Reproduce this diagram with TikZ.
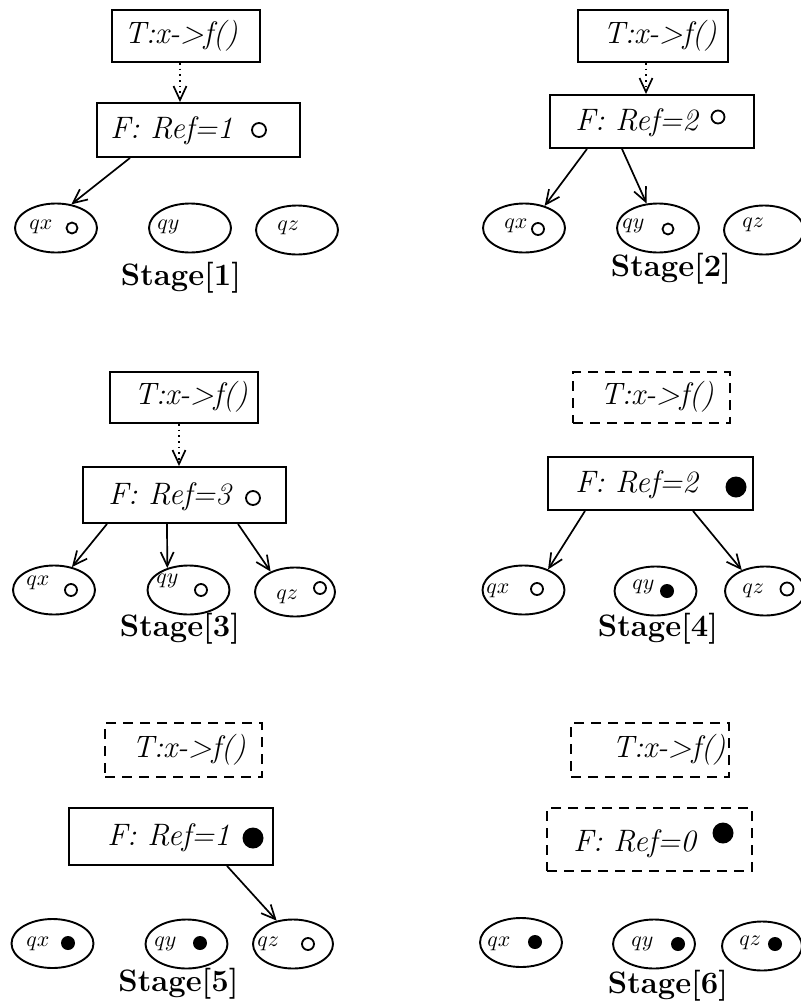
\documentclass[tikz,border=0pt]{standalone}
\usetikzlibrary{arrows.meta,shapes.geometric}
\begin{document}
\begin{tikzpicture}[x=0.5pt,y=-0.5pt,
 bx/.style={draw, line width=0.95pt, rectangle, inner sep=0pt},
 dbx/.style={bx, dash pattern=on 5pt off 3.5pt},
 ell/.style={draw, ellipse, line width=0.95pt, minimum width=41pt, minimum height=24.5pt, inner sep=0pt},
 mtxt/.style={font=\fontsize{15.5}{18}\selectfont\itshape, inner sep=0pt},
 qtxt/.style={font=\fontsize{10.5}{12}\selectfont, inner sep=0pt, anchor=west},
 stg/.style={font=\fontsize{15.5}{18}\selectfont\bfseries, inner sep=0pt, anchor=base},
 oc/.style={circle, draw, line width=0.9pt, inner sep=0pt},
 fc/.style={circle, fill, inner sep=0pt},
 arr/.style={-{Straight Barb[length=7pt,width=6.5pt,line width=0.85pt]}, line width=0.85pt},
 darr/.style={arr, dotted, line width=1pt},
]
\useasboundingbox (0,0) rectangle (801,1007);

% ---------- Stage 1 ----------
\node[bx, minimum width=74pt, minimum height=26pt] (t1) at (186,36) {};
\node[mtxt] (t1l) at (181,36) {T:x->f()};
\node[bx, minimum width=101.5pt, minimum height=27pt] (f1) at (198.5,130) {};
\node[mtxt, anchor=west] (f1l) at (110,131) {F: Ref=1};
\node[oc, minimum size=7pt] (f1c) at (259,130) {};
\draw[darr] ([xshift=-3pt]t1.south) -- ([xshift=-9.25pt]f1.north);
\node[ell] (q1x) at (56,228) {};
\node[ell] (q1y) at (190,228) {};
\node[ell] (q1z) at (297,230) {};
\node[qtxt] (q1xl) at (29,227) {$qx$};
\node[oc, minimum size=5.5pt] (q1xc) at (72,228) {};
\node[qtxt] (q1yl) at (157,227) {$qy$};
\node[qtxt] (q1zl) at (277,228) {$qz$};
\draw[arr] ([xshift=-34.25pt]f1.south) -- (q1x.57);
\node[stg] (s1) at (181,285) {Stage[1]};

% ---------- Stage 2 ----------
\node[bx, minimum width=75pt, minimum height=26pt] (t2) at (653,36) {};
\node[mtxt] (t2l) at (660,36) {T:x->f()};
\node[bx, minimum width=102pt, minimum height=26.5pt] (f2) at (652,121.5) {};
\node[mtxt, anchor=west] (f2l) at (575,123) {F: Ref=2};
\node[oc, minimum size=6.5pt] (f2c) at (718,117) {};
\draw[darr] ([xshift=-3.5pt]t2.south) -- ([xshift=-3pt]f2.north);
\node[ell] (q2x) at (524,228) {};
\node[ell] (q2y) at (658,228) {};
\node[ell, minimum width=40pt] (q2z) at (764,230) {};
\node[qtxt] (q2xl) at (504,226) {$qx$};
\node[oc, minimum size=6pt] (q2xc) at (538,229) {};
\node[qtxt] (q2yl) at (622,226) {$qy$};
\node[oc, minimum size=5.5pt] (q2yc) at (668,229) {};
\node[qtxt] (q2zl) at (742,225) {$qz$};
\draw[arr] ([xshift=-32.5pt]f2.south) -- (q2x.47);
\draw[arr] ([xshift=-15pt]f2.south) -- (q2y.115);
\node[stg] (s2) at (671,276) {Stage[2]};

% ---------- Stage 3 ----------
\node[bx, minimum width=74pt, minimum height=25.5pt] (t3) at (184,397.5) {};
\node[mtxt] (t3l) at (191,397) {T:x->f()};
\node[bx, minimum width=101.5pt, minimum height=28pt] (f3) at (184.5,495) {};
\node[mtxt, anchor=west] (f3l) at (108,497) {F: Ref=3};
\node[oc, minimum size=7pt] (f3c) at (253,498) {};
\draw[darr] ([xshift=-2.5pt]t3.south) -- ([xshift=-2.75pt]f3.north);
\node[ell] (q3x) at (54,590) {};
\node[ell] (q3y) at (188.5,590) {};
\node[ell, minimum width=40pt] (q3z) at (295,592) {};
\node[qtxt] (q3xl) at (26,583) {$qx$};
\node[oc, minimum size=6pt] (q3xc) at (71,590) {};
\node[qtxt] (q3yl) at (156,581) {$qy$};
\node[oc, minimum size=6pt] (q3yc) at (201,590) {};
\node[qtxt] (q3zl) at (276,597) {$qz$};
\node[oc, minimum size=6pt] (q3zc) at (320,588) {};
\draw[arr] ([xshift=-38.75pt]f3.south) -- (q3x.52);
\draw[arr] ([xshift=-8.75pt]f3.south) -- (q3y.134);
\draw[arr] ([xshift=26.75pt]f3.south) -- (q3z.140);
\node[stg] (s3) at (180,636) {Stage[3]};

% ---------- Stage 4 ----------
\node[dbx, minimum width=78.5pt, minimum height=25.5pt] (t4) at (651.5,397.5) {};
\node[mtxt] (t4l) at (657,397) {T:x->f()};
\node[bx, minimum width=102.5pt, minimum height=26.5pt] (f4) at (650.5,483.5) {};
\node[mtxt, anchor=west] (f4l) at (575,485) {F: Ref=2};
\node[fc, minimum size=10.5pt] (f4c) at (736,487) {};
\node[ell] (q4x) at (523.5,590) {};
\node[ell] (q4y) at (655.5,591) {};
\node[ell, minimum width=40pt] (q4z) at (765,591) {};
\node[qtxt] (q4xl) at (486,591) {$qx$};
\node[oc, minimum size=6pt] (q4xc) at (537,589) {};
\node[qtxt] (q4yl) at (632,587) {$qy$};
\node[fc, minimum size=7pt] (q4yc) at (667,591) {};
\node[qtxt] (q4zl) at (742,591) {$qz$};
\node[oc, minimum size=6.5pt] (q4zc) at (787,589) {};
\draw[arr] ([xshift=-32.75pt]f4.south) -- (q4x.40);
\draw[arr] ([xshift=21.25pt]f4.south) -- (q4z.138);
\node[stg] (s4) at (658,636) {Stage[4]};

% ---------- Stage 5 ----------
\node[dbx, minimum width=78.5pt, minimum height=27pt] (t5) at (183.5,750) {};
\node[mtxt] (t5l) at (189,750) {T:x->f()};
\node[bx, minimum width=102pt, minimum height=28.5pt] (f5) at (171,836.5) {};
\node[mtxt, anchor=west] (f5l) at (107,838) {F: Ref=1};
\node[fc, minimum size=10.5pt] (f5c) at (253,838) {};
\node[ell] (q5x) at (52.5,943.5) {};
\node[ell] (q5y) at (186.5,944) {};
\node[ell, minimum width=40pt] (q5z) at (293,944) {};
\node[qtxt] (q5xl) at (26,944) {$qx$};
\node[fc, minimum size=7pt] (q5xc) at (68,943) {};
\node[qtxt] (q5yl) at (154,944) {$qy$};
\node[fc, minimum size=7pt] (q5yc) at (200,943) {};
\node[qtxt] (q5zl) at (257,944) {$qz$};
\node[oc, minimum size=6pt] (q5zc) at (308,944) {};
\draw[arr] ([xshift=28pt]f5.south) -- (q5z.125);
\node[stg] (s5) at (178.5,991) {Stage[5]};

% ---------- Stage 6 ----------
\node[dbx, minimum width=79pt, minimum height=27pt] (t6) at (650,750) {};
\node[mtxt, anchor=east] (t6l) at (726,750) {T:x->f()};
\node[dbx, minimum width=102.5pt, minimum height=31.5pt] (f6) at (649.5,839.5) {};
\node[mtxt, anchor=west] (f6l) at (573,844) {F: Ref=0};
\node[fc, minimum size=10.5pt] (f6c) at (723,833) {};
\node[ell] (q6x) at (521,942.5) {};
\node[ell] (q6y) at (654,944) {};
\node[ell, minimum width=40pt] (q6z) at (762,946) {};
\node[qtxt] (q6xl) at (487,944) {$qx$};
\node[fc, minimum size=7pt] (q6xc) at (535,942) {};
\node[qtxt] (q6yl) at (631,944) {$qy$};
\node[fc, minimum size=7pt] (q6yc) at (678,944) {};
\node[qtxt] (q6zl) at (739,943) {$qz$};
\node[fc, minimum size=7pt] (q6zc) at (775,944) {};
\node[stg] (s6) at (668,993) {Stage[6]};
\end{tikzpicture}
\end{document}
